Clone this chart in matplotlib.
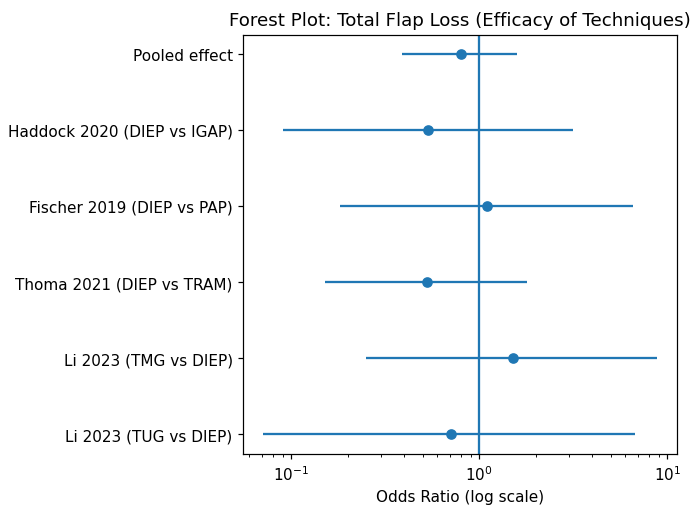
import numpy as np
import matplotlib
matplotlib.use("Agg")
import matplotlib.pyplot as plt

studies = [
    "Li 2023 (TUG vs DIEP)",
    "Li 2023 (TMG vs DIEP)",
    "Thoma 2021 (DIEP vs TRAM)",
    "Fischer 2019 (DIEP vs PAP)",
    "Haddock 2020 (DIEP vs IGAP)",
    "Pooled effect",
]
odds_ratio = [0.707, 1.51, 0.53, 1.10, 0.537, 0.80]
ci_lower = [0.0708, 0.251, 0.151, 0.181, 0.091, 0.39]
ci_upper = [6.75, 8.83, 1.80, 6.58, 3.14, 1.59]


def main():
    odds = np.array(odds_ratio)
    lo = np.array(ci_lower)
    hi = np.array(ci_upper)
    y = np.arange(len(studies))

    dpi = 109.5
    fig, ax = plt.subplots(figsize=(691 / dpi, 509 / dpi), dpi=dpi)
    ax.errorbar(odds, y, xerr=[odds - lo, hi - odds], fmt='o')
    ax.axvline(1)
    ax.set_xscale('log')
    ax.set_yticks(y)
    ax.set_yticklabels(studies)
    ax.set_xlabel('Odds Ratio (log scale)')
    ax.set_title('Forest Plot: Total Flap Loss (Efficacy of Techniques)')
    fig.subplots_adjust(left=243.3 / 691, right=676.7 / 691,
                        top=1 - 35.5 / 509, bottom=1 - 454.5 / 509)
    fig.savefig('out.png', dpi=dpi)


if __name__ == "__main__":
    main()
